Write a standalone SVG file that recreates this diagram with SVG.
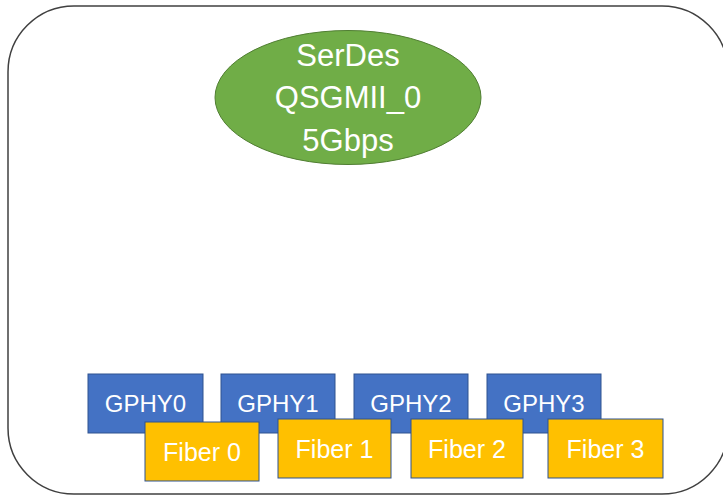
<svg xmlns="http://www.w3.org/2000/svg" width="723" height="497" viewBox="0 0 723 497">
<style>
.t{font-family:"Liberation Sans",Arial,sans-serif;fill:#fff;text-anchor:middle;dominant-baseline:central}
.g{fill:#4472C4;stroke:#2F528F;stroke-width:1}
.f{fill:#FFC000;stroke:#2F528F;stroke-width:1}
</style>
<rect width="723" height="497" fill="#fff"/>
<g id="frame"><rect x="8" y="6" width="720" height="488" rx="66" ry="66" fill="#fff" stroke="#404040" stroke-width="1.5"/></g>
<g id="serdes">
<ellipse cx="348" cy="97.5" rx="133" ry="67" fill="#70AD47" stroke="#507E32" stroke-width="1"/>
<text class="t" x="348" y="55" font-size="31">SerDes</text>
<text class="t" x="348" y="97" font-size="31">QSGMII_0</text>
<text class="t" x="348" y="140" font-size="31">5Gbps</text>
</g>
<g id="gphy0"><rect class="g" x="88" y="374" width="115" height="59"/><text class="t" x="145.5" y="403" font-size="24">GPHY0</text></g>
<g id="gphy1"><rect class="g" x="221" y="374" width="114" height="59"/><text class="t" x="278" y="403" font-size="24">GPHY1</text></g>
<g id="gphy2"><rect class="g" x="354" y="374" width="114" height="59"/><text class="t" x="411" y="403" font-size="24">GPHY2</text></g>
<g id="gphy3"><rect class="g" x="487" y="374" width="114" height="59"/><text class="t" x="544" y="403" font-size="24">GPHY3</text></g>
<g id="fiber0"><rect class="f" x="145" y="422" width="114" height="59"/><text class="t" x="202" y="451.5" font-size="25">Fiber 0</text></g>
<g id="fiber1"><rect class="f" x="278" y="419" width="113" height="59"/><text class="t" x="334.5" y="448.5" font-size="25">Fiber 1</text></g>
<g id="fiber2"><rect class="f" x="411" y="419" width="112" height="59"/><text class="t" x="467" y="448.5" font-size="25">Fiber 2</text></g>
<g id="fiber3"><rect class="f" x="548" y="419" width="115" height="59"/><text class="t" x="605.5" y="448.5" font-size="25">Fiber 3</text></g>
<g id="connectors"></g>
</svg>
